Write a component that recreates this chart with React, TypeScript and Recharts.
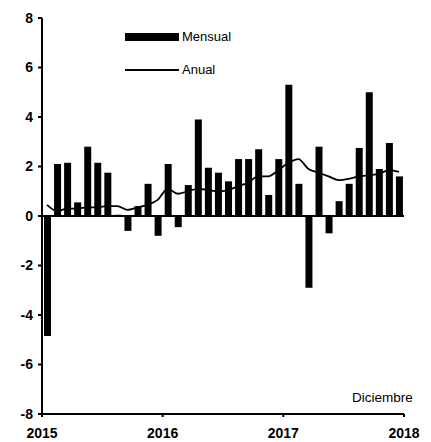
import React from "react";
import { ComposedChart, Bar, Line, XAxis, YAxis, ReferenceLine, Legend } from "recharts";

const FONT = "'Liberation Sans', Arial, Helvetica, sans-serif";

const YEARS = ["2015", "2016", "2017", "2018"];
const YEAR_TICKS = [0, 12, 24, 36];
const Y_TICKS = [-8, -6, -4, -2, 0, 2, 4, 6, 8];

// variación mensual, ene-2015 .. dic-2017
const MENSUAL = [
  -4.85, 2.1, 2.15, 0.55, 2.8, 2.15, 1.75, 0.05, -0.6, 0.4, 1.3, -0.8,
  2.1, -0.45, 1.25, 3.9, 1.95, 1.75, 1.4, 2.3, 2.3, 2.7, 0.85, 2.3,
  5.3, 1.3, -2.9, 2.8, -0.7, 0.6, 1.3, 2.75, 5.0, 1.9, 2.95, 1.6,
];

// variación anual
const ANUAL = [
  0.45, 0.2, 0.3, 0.3, 0.35, 0.35, 0.4, 0.4, 0.25, 0.35, 0.45, 0.65,
  1.1, 0.9, 1.0, 1.1, 1.05, 1.0, 1.05, 1.2, 1.35, 1.6, 1.6, 1.85,
  2.15, 2.3, 1.9, 1.75, 1.6, 1.45, 1.5, 1.6, 1.65, 1.7, 1.85, 1.78,
];

const data = MENSUAL.map((m, i) => ({ x: i + 0.5, mensual: m, anual: ANUAL[i] }));

function LegendBox() {
  const row = { display: "flex", alignItems: "center", fontSize: 13, color: "#000", fontFamily: FONT };
  return (
    <div style={{ position: "absolute", left: 125, top: 29 }}>
      <div style={row}>
        <span style={{ display: "inline-block", width: 54, height: 8, background: "#000", marginRight: 3 }} />
        Mensual
      </div>
      <div style={{ ...row, marginTop: 18 }}>
        <span style={{ display: "inline-block", width: 54, height: 2, background: "#000", marginRight: 3 }} />
        Anual
      </div>
    </div>
  );
}

export default function App() {
  return (
    <div style={{ position: "absolute", left: 0, top: 0, width: 431, height: 442, background: "#fff", fontFamily: FONT }}>
      <ComposedChart width={431} height={442} data={data}
        margin={{ top: 18, right: 27, left: 0, bottom: 0 }}>
        <XAxis type="number" dataKey="x" domain={[0, 36]} ticks={YEAR_TICKS}
          tickFormatter={(v: number) => YEARS[YEAR_TICKS.indexOf(v)]}
          height={28} tickSize={3} tickMargin={11}
          axisLine={{ stroke: "#000", strokeWidth: 2 }} tickLine={{ stroke: "#000", strokeWidth: 2 }}
          tick={{ fontSize: 14, fontWeight: 700, fill: "#000", fontFamily: FONT }} />
        <YAxis type="number" domain={[-8, 8]} ticks={Y_TICKS} width={42} interval={0}
          tickSize={4} tickMargin={5}
          axisLine={{ stroke: "#000", strokeWidth: 2 }} tickLine={{ stroke: "#000", strokeWidth: 2 }}
          tick={{ fontSize: 14, fontWeight: 700, fill: "#000", fontFamily: FONT }} />
        <ReferenceLine y={0} stroke="#000" strokeWidth={2} />
        <Bar dataKey="mensual" fill="#000" barSize={7} isAnimationActive={false} />
        <Line dataKey="anual" type="monotone" stroke="#000" strokeWidth={1.8} dot={false} isAnimationActive={false} />
        <Legend content={() => null} />
      </ComposedChart>
      <LegendBox />
      <div style={{ position: "absolute", left: 352, top: 390, fontSize: 13.5, color: "#000", fontFamily: FONT }}>
        Diciembre
      </div>
    </div>
  );
}
